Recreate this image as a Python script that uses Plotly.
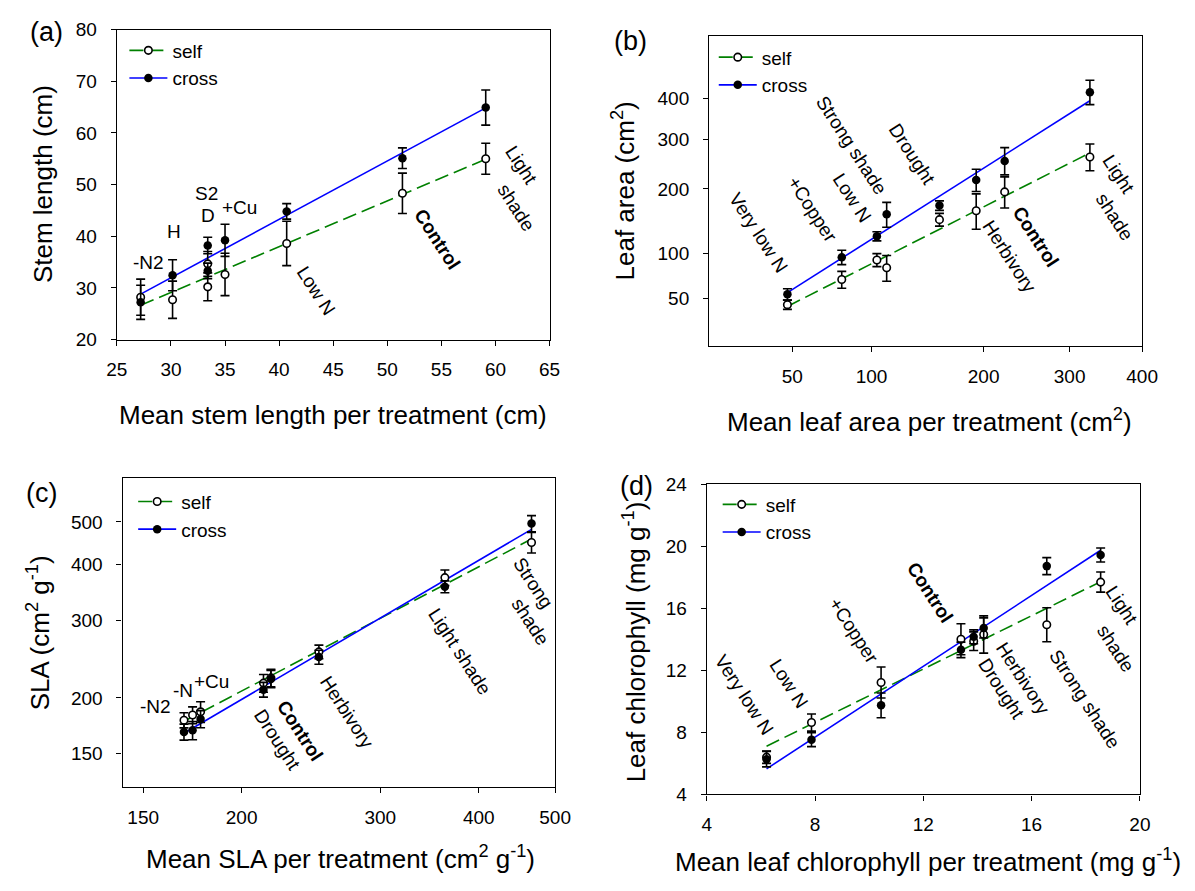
import numpy as np
import plotly.graph_objects as go

W, H = 1195, 891

# ---------------- (a) stem length (cm) ----------------
treat_a = ["-N2", "H", "S2", "D", "+Cu", "Low N", "Control", "Light shade"]
mean_a = [27.2, 30.15, 33.4, 33.4, 35.0, 40.7, 51.4, 59.1]
self_a = [28.2, 27.7, 34.65, 30.2, 32.6, 38.6, 48.3, 55.0]
self_err_a = [3.5, 3.6, 2.4, 2.7, 4.1, 4.3, 3.9, 3.0]
cross_a = [27.2, 32.45, 38.2, 33.3, 39.2, 44.8, 55.1, 64.9]
cross_err_a = [3.3, 3.0, 1.6, 1.5, 3.1, 1.5, 2.0, 3.4]

# ---------------- (b) leaf area (cm2) ----------------
treat_b = ["Very low N", "+Copper", "Low N", "Strong shade", "Drought",
           "Herbivory", "Control", "Light shade"]
mean_b = [47.5, 79.2, 104.0, 111.5, 156.5, 192.3, 222.6, 326.5]
self_b = [44.6, 68.9, 91.4, 82.0, 147.9, 162.1, 194.6, 262.4]
self_err_b = [4, 9, 8, 15, 10, 29, 28, 28]
cross_b = [54.0, 94.7, 123.0, 156.3, 170.8, 216.4, 254.4, 415.4]
cross_err_b = [5.3, 9, 6.5, 20, 8, 21, 28, 32]

# ---------------- (c) SLA (cm2 g-1) ----------------
treat_c = ["-N2", "-N", "+Cu", "Drought", "Control", "Herbivory",
           "Light shade", "Strong shade"]
mean_c = [169.0, 173.3, 177.4, 213.2, 217.9, 250.7, 362.3, 466.7]
self_c = [178.1, 182.9, 186.0, 216.0, 222.0, 254.2, 374.2, 449.4]
self_err_c = [7, 8, 10, 10, 10, 9, 15, 24]
cross_c = [167.5, 168.9, 179.2, 208.8, 220.8, 247.4, 356.9, 495.8]
cross_err_c = [7, 8, 8, 8, 10, 9, 11, 21]

# ---------------- (d) leaf chlorophyll (mg g-1) ----------------
treat_d = ["Very low N", "Low N", "+Copper", "Control", "Drought",
           "Herbivory", "Strong shade", "Light shade"]
mean_d = [6.21, 7.87, 10.44, 13.39, 13.86, 14.23, 16.56, 18.55]
self_d = [6.4, 8.63, 11.21, 14.0, 13.88, 14.31, 14.94, 17.69]
self_err_d = [0.4, 0.55, 1.0, 1.0, 0.6, 1.2, 1.1, 0.65]
cross_d = [6.27, 7.53, 9.74, 13.32, 14.16, 14.73, 18.72, 19.44]
cross_err_d = [0.5, 0.45, 0.8, 0.5, 0.45, 0.65, 0.55, 0.45]

GREEN = "rgb(0,128,0)"
BLUE = "rgb(0,0,255)"
FONT = "Liberation Sans, Arial, sans-serif"
LABEL_SIZE = 19
TITLE_SIZE = 26
ANGLE = 57

ident = (lambda v: np.asarray(v, float), lambda v: np.asarray(v, float))
sqrt_t = (lambda v: np.sqrt(np.asarray(v, float)), lambda v: np.asarray(v, float) ** 2)
log_t = (lambda v: np.log10(np.asarray(v, float)), lambda v: 10 ** np.asarray(v, float))

# layout of each panel: plot-area pixel box, axis setup, labels
panels = [
    dict(key="", box=(108.3, 551.0, 20.0, 337.5), scale="linear",
         xr=[25, 65], yr=[20, 80], xt=list(range(25, 66, 5)), yt=list(range(20, 81, 10)),
         data=(mean_a, self_a, self_err_a, cross_a, cross_err_a),
         letter=("(a)", 36, 23),
         ytitle=("Stem length (cm)", 33, 178),
         xtitle=("Mean stem length per treatment (cm)", 329, 415),
         legend=(116, 22),
         labels=[("-N2", 27.9, 34.9, 0), ("H", 30.25, 40.9, 0), ("S2", 33.3, 48.2, 0),
                 ("D", 33.43, 44.1, 0), ("+Cu", 36.37, 45.6, 0),
                 ("Low N", 43.39, 29.45, ANGLE), ("<b>Control</b>", 54.62, 39.3, ANGLE),
                 ("Light", 62.4, 53.65, ANGLE), ("shade", 61.9, 45.5, ANGLE)]),
    dict(key="2", box=(714.3, 1157.3, 26.7, 344.3), scale="sqrt",
         xr=[4, 20], yr=[4, 24], xt=[50, 100, 200, 300, 400], yt=[50, 100, 200, 300, 400],
         data=(mean_b, self_b, self_err_b, cross_b, cross_err_b),
         letter=("(b)", 634, 32),
         ytitle=("Leaf area (cm<sup>2</sup>)", 627, 185),
         xtitle=("Mean leaf area per treatment (cm<sup>2</sup>)", 940, 420),
         legend=(719, 29),
         labels=[("Very low N", 33.8, 128.1, ANGLE), ("+Copper", 61.0, 163.6, ANGLE),
                 ("Low N", 85.9, 184.1, ANGLE), ("Strong shade", 85.9, 287.3, ANGLE),
                 ("Drought", 132.5, 268.0, ANGLE), ("Herbivory", 228.0, 96.2, ANGLE),
                 ("<b>Control</b>", 257.9, 122.5, ANGLE), ("Light", 366.3, 228.0, ANGLE),
                 ("shade", 360.2, 153.0, ANGLE)]),
    dict(key="3", box=(114.2, 556.7, 479.0, 796.0), scale="log",
         xr=[2.150, 2.699], yr=[2.099, 2.799], xt=[150, 200, 300, 400, 500], yt=[150, 200, 300, 400, 500],
         data=(mean_c, self_c, self_err_c, cross_c, cross_err_c),
         letter=("(c)", 31, 495),
         ytitle=("SLA (cm<sup>2</sup> g<sup>-1</sup>)", 29, 638),
         xtitle=("Mean SLA per treatment (cm<sup>2</sup> g<sup>-1</sup>)", 337, 868),
         legend=(125, 484),
         labels=[("-N2", 155.4, 191.1, 0), ("-N", 168.3, 207.5, 0), ("+Cu", 183.1, 218.3, 0),
                 ("<b>Control</b>", 236.9, 168.4, ANGLE), ("Drought", 221.8, 160.8, ANGLE),
                 ("Herbivory", 272.3, 185.4, ANGLE), ("Light shade", 378.6, 255.1, ANGLE),
                 ("Strong", 468.2, 364.1, ANGLE), ("shade", 464.7, 297.1, ANGLE)]),
    dict(key="4", box=(711.8, 1155.0, 485.7, 803.3), scale="linear",
         xr=[4, 20], yr=[4, 24], xt=list(range(4, 21, 4)), yt=list(range(4, 25, 4)),
         data=(mean_d, self_d, self_err_d, cross_d, cross_err_d),
         letter=("(d)", 640, 487),
         ytitle=("Leaf chlorophyll (mg g<sup>-1</sup>)", 638, 647),
         xtitle=("Mean leaf chlorophyll per treatment (mg g<sup>-1</sup>)", 938, 871),
         legend=(723, 487),
         labels=[("Very low N", 5.38, 10.44, ANGLE), ("Low N", 7.03, 11.15, ANGLE),
                 ("+Copper", 9.43, 14.58, ANGLE), ("<b>Control</b>", 12.24, 17.0, ANGLE),
                 ("Herbivory", 15.68, 11.47, ANGLE), ("Drought", 14.89, 10.86, ANGLE),
                 ("Strong shade", 17.97, 10.12, ANGLE), ("Light", 19.34, 16.2, ANGLE),
                 ("shade", 19.11, 13.42, ANGLE)]),
]

fig = go.Figure()
annotations = []
layout = {}

for p in panels:
    k = p["key"]
    xa, ya = "x" + k, "y" + k
    leg = "legend" + k
    mean, s, se, c, ce = p["data"]
    scale = p["scale"]
    fit_f, fit_inv = {"linear": ident, "sqrt": sqrt_t, "log": log_t}[scale]
    # coordinates handed to plotly (log axes take raw values)
    plot_f = sqrt_t[0] if scale == "sqrt" else ident[0]
    # annotation coordinates (log axes take log10 values)
    ann_f = {"linear": ident[0], "sqrt": sqrt_t[0], "log": log_t[0]}[scale]

    xs = np.asarray(mean, float)
    xline = np.array([xs.min(), xs.max()])
    series = [
        ("self", s, se, GREEN, "14px,6px", False),
        ("cross", c, ce, BLUE, "solid", True),
    ]

    # regression lines, fitted in the displayed axis space
    for name, yv, ev, color, dash, filled in series:
        yv = np.asarray(yv, float)
        coef = np.polyfit(fit_f(xs), fit_f(yv), 1)
        yline = fit_inv(np.polyval(coef, fit_f(xline)))
        fig.add_trace(go.Scatter(
            x=plot_f(xline), y=plot_f(yline), xaxis=xa, yaxis=ya, mode="lines",
            line=dict(color=color, width=1.6, dash=dash), showlegend=False,
            hoverinfo="skip"))

    # treatment means with error bars, plus a legend key per series
    for name, yv, ev, color, dash, filled in series:
        yv = np.asarray(yv, float)
        ev = np.asarray(ev, float)
        if scale == "sqrt":
            up = np.sqrt(yv + ev) - np.sqrt(yv)
            dn = np.sqrt(yv) - np.sqrt(yv - ev)
            err = dict(type="data", array=up, arrayminus=dn, symmetric=False,
                       color="black", thickness=1.6, width=4.5)
        else:
            err = dict(type="data", array=ev, color="black", thickness=1.6, width=4.5)
        marker = dict(size=8.5 if filled else 7.5, color="black" if filled else "white",
                      line=dict(color="black", width=0 if filled else 1.6))
        fig.add_trace(go.Scatter(
            x=plot_f(xs), y=plot_f(yv), xaxis=xa, yaxis=ya, mode="markers",
            marker=marker, error_y=err, showlegend=False, name=name))
        fig.add_trace(go.Scatter(
            x=[None], y=[None], xaxis=xa, yaxis=ya, mode="lines+markers", name=name,
            marker=marker, line=dict(color=color, width=1.6, dash=dash),
            legend=leg, showlegend=True))

    x0, x1, y0, y1 = p["box"]
    dom_x = [x0 / W, x1 / W]
    dom_y = [1 - y1 / H, 1 - y0 / H]
    if scale == "sqrt":
        xtv, ytv = np.sqrt(p["xt"]), np.sqrt(p["yt"])
        atype = "linear"
    elif scale == "log":
        xtv, ytv = p["xt"], p["yt"]
        atype = "log"
    else:
        xtv, ytv = p["xt"], p["yt"]
        atype = "linear"
    common = dict(showline=True, linecolor="black", linewidth=1.3, mirror=True,
                  ticks="outside", ticklen=5, tickwidth=1.3, tickcolor="black",
                  showgrid=False, zeroline=False, type=atype,
                  tickfont=dict(size=LABEL_SIZE, color="black", family=FONT))
    layout["xaxis" + k] = dict(common, domain=dom_x, range=p["xr"], anchor=ya,
                               tickvals=list(xtv), ticktext=[str(t) for t in p["xt"]],
                               ticklabelstandoff=8)
    layout["yaxis" + k] = dict(common, domain=dom_y, range=p["yr"], anchor=xa,
                               tickvals=list(ytv), ticktext=[str(t) for t in p["yt"]],
                               ticklabelstandoff=10)
    lx, ly = p["legend"]
    layout[leg] = dict(x=lx / W, y=1 - ly / H, xanchor="left", yanchor="top",
                       bgcolor="rgba(0,0,0,0)", borderwidth=0, itemwidth=38,
                       font=dict(size=LABEL_SIZE, color="black", family=FONT),
                       tracegroupgap=0)

    for text, tx, ty, ang in p["labels"]:
        annotations.append(dict(
            text=text, x=float(ann_f(tx)), y=float(ann_f(ty)), xref=xa, yref=ya,
            showarrow=False, textangle=ang, xanchor="center", yanchor="middle",
            font=dict(size=LABEL_SIZE, color="black", family=FONT)))

    t, px_, py_ = p["letter"]
    annotations.append(dict(text=t, x=px_ / W, y=1 - py_ / H, xref="paper", yref="paper",
                            showarrow=False, xanchor="center", yanchor="middle",
                            font=dict(size=27, color="black", family=FONT)))
    t, px_, py_ = p["ytitle"]
    annotations.append(dict(text=t, x=px_ / W, y=1 - py_ / H, xref="paper", yref="paper",
                            showarrow=False, textangle=-90, xanchor="center", yanchor="middle",
                            font=dict(size=TITLE_SIZE, color="black", family=FONT)))
    t, px_, py_ = p["xtitle"]
    annotations.append(dict(text=t, x=px_ / W, y=1 - py_ / H, xref="paper", yref="paper",
                            showarrow=False, xanchor="center", yanchor="middle",
                            font=dict(size=TITLE_SIZE, color="black", family=FONT)))

fig.update_layout(
    width=W, height=H, margin=dict(l=0, r=0, t=0, b=0),
    paper_bgcolor="white", plot_bgcolor="white",
    font=dict(family=FONT, color="black", size=LABEL_SIZE),
    annotations=annotations, **layout)

fig.write_html("out.html")
